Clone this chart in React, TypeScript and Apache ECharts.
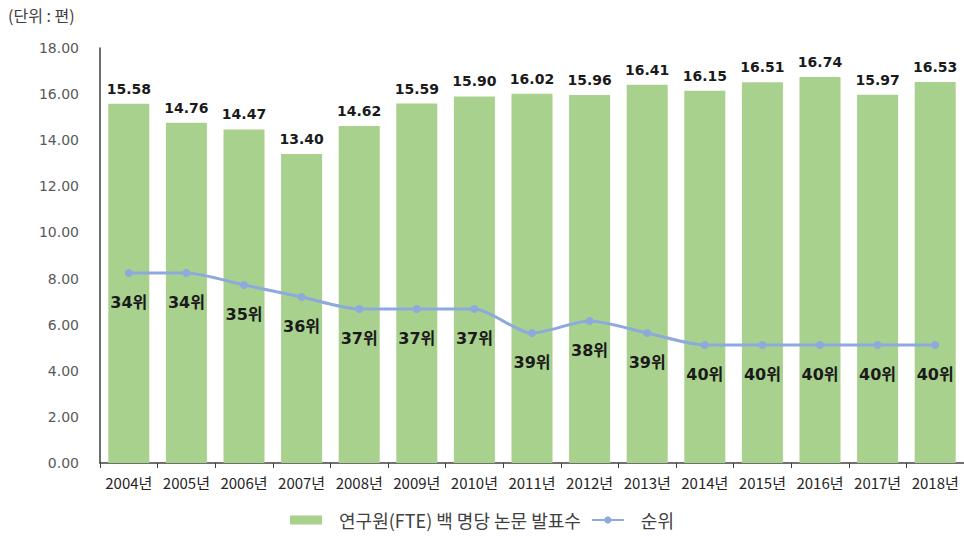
import React, { useEffect, useRef } from "react";
import * as echarts from "echarts";

const years = ["2004년","2005년","2006년","2007년","2008년","2009년","2010년","2011년","2012년","2013년","2014년","2015년","2016년","2017년","2018년"];
const papers = [15.58,14.76,14.47,13.40,14.62,15.59,15.90,16.02,15.96,16.41,16.15,16.51,16.74,15.97,16.53];
const ranks = [34,34,35,36,37,37,37,39,38,39,40,40,40,40,40];
const yTicks = { min: 0, max: 18, interval: 2 };

export default function App() {
  const ref = useRef<HTMLDivElement>(null);
  useEffect(() => {
    const chart = echarts.init(ref.current!, null, { renderer: "svg" });
    chart.setOption({
      animation: false,
      graphic: [
        { type: "text", left: 8, top: 7, style: { text: "(단위 : 편)", font: '16px "Noto Sans CJK KR"', fill: "#404040" } },
      ],
      legend: {
        bottom: 3,
        left: "center",
        itemGap: 10,
        textStyle: { fontFamily: "Noto Sans CJK KR", fontSize: 18, color: "#404040", padding: [0, 0, 0, 12] },
        data: [
          { name: "연구원(FTE) 백 명당 논문 발표수", icon: "rect", itemStyle: { color: "#A9D18E" } },
          { name: "순위" },
        ],
        itemWidth: 32,
        itemHeight: 9,
      },
      grid: { left: 100, right: 0, top: 48, bottom: 74 },
      xAxis: {
        type: "category",
        data: years,
        axisLine: { lineStyle: { color: "#404040", width: 1.5 } },
        axisTick: { show: true, length: 5, lineStyle: { color: "#404040" } },
        axisLabel: { fontFamily: "Noto Sans CJK KR", fontSize: 15, color: "#262626", margin: 12, interval: 0 },
      },
      yAxis: [
        {
          type: "value",
          min: yTicks.min, max: yTicks.max, interval: yTicks.interval,
          splitLine: { show: false },
          axisLine: { show: true, lineStyle: { color: "#404040", width: 1.5 } },
          axisTick: { show: false },
          axisLabel: { formatter: (v: number) => v.toFixed(2), fontFamily: "DejaVu Sans", fontSize: 14, color: "#595959", margin: 21 },
        },
        {
          type: "value", inverse: true, min: 15.25, max: 49.83, show: false,
          splitLine: { show: false },
        },
      ],
      series: [
        {
          name: "연구원(FTE) 백 명당 논문 발표수",
          type: "bar",
          data: papers,
          barWidth: 41,
          itemStyle: { color: "#A9D18E" },
          label: {
            show: true, position: "top", distance: 8,
            formatter: (p: any) => p.value.toFixed(2),
            fontFamily: "DejaVu Sans", fontWeight: "bold", fontSize: 14, color: "#1a1a1a",
          },
        },
        {
          name: "순위",
          type: "line",
          yAxisIndex: 1,
          data: ranks,
          smooth: 0.25,
          symbol: "circle",
          symbolSize: 8,
          lineStyle: { color: "#8EA9DB", width: 3 },
          itemStyle: { color: "#8EA9DB" },
          label: {
            show: true, position: "bottom", distance: 17,
            formatter: (p: any) => p.value + "위",
            fontFamily: "DejaVu Sans, Noto Sans CJK KR", fontWeight: "bold", fontSize: 16, color: "#1a1a1a",
          },
        },
      ],
    });
    return () => chart.dispose();
  }, []);
  return <div ref={ref} style={{ width: 964, height: 537, position: "absolute", left: 0, top: 0 }} />;
}
